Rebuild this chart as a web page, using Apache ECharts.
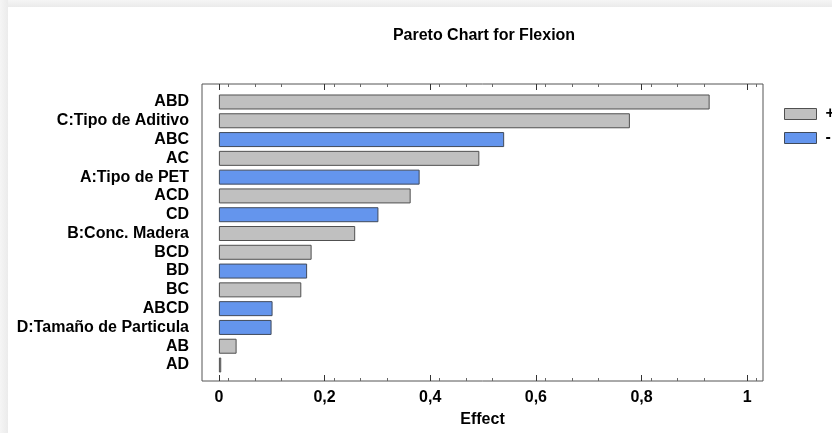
<!DOCTYPE html>
<html>
<head>
<meta charset="utf-8">
<script src="https://cdn.jsdelivr.net/npm/echarts@6/dist/echarts.min.js"></script>
<style>
html,body{margin:0;padding:0;background:#fff;}
#chart{width:832px;height:433px;}
</style>
</head>
<body>
<div id="chart"></div>
<script>
// Standardized effects, largest first
const effects = ['ABD','C:Tipo de Aditivo','ABC','AC','A:Tipo de PET','ACD','CD','B:Conc. Madera','BCD','BD','BC','ABCD','D:Tamaño de Particula','AB','AD'];
const effectSize = [0.929, 0.778, 0.540, 0.493, 0.380, 0.363, 0.302, 0.258, 0.1755, 0.167, 0.156, 0.1016, 0.0997, 0.0335, 0.0044];
const effectSign = ['+','+','-','+','-','+','-','+','+','-','+','-','-','+','+'];
const xTicks = [0, 0.2, 0.4, 0.6, 0.8, 1];

const xMin = -0.032, xMax = 1.030;
const FONT = 'Liberation Sans, Arial, sans-serif';

// y category axis is inverted so the largest effect sits on top
const cats = effects.slice().reverse();
const posVals = effects.map((e, i) => effectSign[i] === '+' ? effectSize[i] : null).reverse();
const negVals = effects.map((e, i) => effectSign[i] === '-' ? effectSize[i] : null).reverse();

const chart = echarts.init(document.getElementById('chart'), null, {renderer: 'canvas'});

const tickAxisBase = {
  type: 'value', min: xMin, max: xMax, gridIndex: 1,
  splitLine: {show: false},
  axisLine: {show: false},
  minorSplitLine: {show: false},
  minorTick: {show: true, splitNumber: 4, length: 3, lineStyle: {color: '#666'}},
  axisTick: {show: true, inside: true, length: 6, lineStyle: {color: '#333'}, customValues: xTicks}
};

chart.setOption({
  animation: false,
  backgroundColor: '#ffffff',
  graphic: [
    {type: 'rect', shape: {x: 0, y: 0, width: 832, height: 7}, style: {fill: new echarts.graphic.LinearGradient(0, 0, 0, 1, [{offset: 0, color: '#f5f5f5'}, {offset: 1, color: '#ebebeb'}])}, z: -10},
    {type: 'rect', shape: {x: 0, y: 0, width: 8, height: 433}, style: {fill: new echarts.graphic.LinearGradient(0, 0, 1, 0, [{offset: 0, color: '#f5f5f5'}, {offset: 1, color: '#ebebeb'}])}, z: -10}
  ],
  title: {
    text: 'Pareto Chart for Flexion',
    left: 479, top: 23, textAlign: 'center',
    textStyle: {fontFamily: FONT, fontSize: 16, fontWeight: 'bold', color: '#000'}
  },
  legend: {
    orient: 'vertical',
    left: 779, top: 101,
    icon: 'rect',
    itemWidth: 32, itemHeight: 11, itemGap: 8,
    textStyle: {fontFamily: FONT, fontSize: 16, fontWeight: 'bold', color: '#000', padding: [0, 0, 0, 4]},
    data: [
      {name: '+', itemStyle: {color: '#c0c0c0', borderColor: '#505050', borderWidth: 1}},
      {name: '-', itemStyle: {color: '#6495ed', borderColor: '#404a5a', borderWidth: 1}}
    ]
  },
  grid: [
    {left: 202, right: 69, top: 92.6, bottom: 58.6, containLabel: false},
    {left: 202, right: 69, top: 84, bottom: 50, show: true, borderColor: '#555', borderWidth: 1, backgroundColor: 'transparent', containLabel: false}
  ],
  xAxis: [
    {type: 'value', min: xMin, max: xMax, gridIndex: 0, show: false},
    Object.assign({}, tickAxisBase, {
      position: 'bottom',
      interval: 0.2,
      name: 'Effect', nameLocation: 'middle', nameGap: 31,
      nameTextStyle: {fontFamily: FONT, fontSize: 16, fontWeight: 'bold', color: '#000'},
      axisLabel: {
        margin: 9, fontFamily: FONT, fontSize: 16, fontWeight: 'bold', color: '#000',
        customValues: xTicks,
        formatter: v => String(Math.round(v * 10) / 10).replace('.', ',')
      }
    }),
    Object.assign({}, tickAxisBase, {
      position: 'top',
      interval: 0.2,
      axisLabel: {show: false}
    })
  ],
  yAxis: [
    {
      type: 'category', data: cats, gridIndex: 0,
      axisLine: {show: false}, axisTick: {show: false},
      axisLabel: {interval: 0, margin: 13, fontFamily: FONT, fontSize: 16, fontWeight: 'bold', color: '#000'}
    },
    {type: 'value', gridIndex: 1, show: false}
  ],
  series: [
    {
      name: '+', type: 'bar', stack: 'eff', xAxisIndex: 0, yAxisIndex: 0,
      data: posVals, barWidth: 15,
      itemStyle: {color: '#c0c0c0', borderColor: '#505050', borderWidth: 1}
    },
    {
      name: '-', type: 'bar', stack: 'eff', xAxisIndex: 0, yAxisIndex: 0,
      data: negVals, barWidth: 15,
      itemStyle: {color: '#6495ed', borderColor: '#404a5a', borderWidth: 1}
    }
  ]
});
</script>
</body>
</html>
